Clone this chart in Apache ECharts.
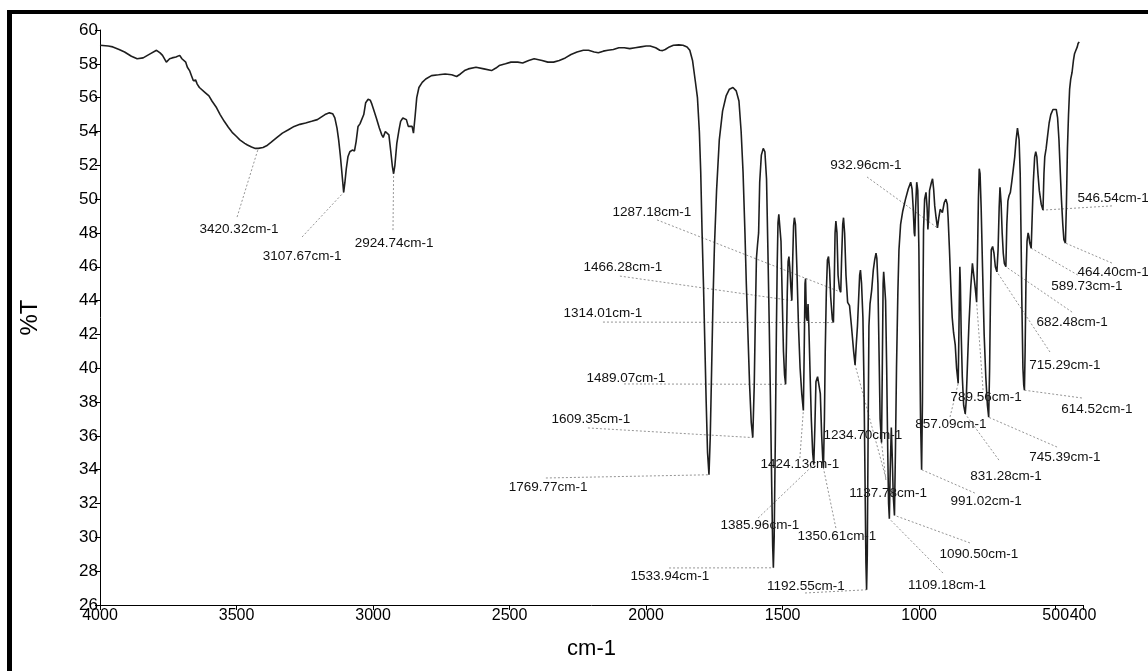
<!DOCTYPE html>
<html>
<head>
<meta charset="utf-8">
<title>IR spectrum</title>
<script src="https://cdn.jsdelivr.net/npm/echarts@6/dist/echarts.min.js"></script>
<style>
  html, body { margin: 0; padding: 0; background: #fff; }
  #chart { width: 1148px; height: 671px; }
</style>
</head>
<body>
<div id="chart"></div>
<script>
// FT-IR transmittance spectrum: [wavenumber (cm-1), %T]
const spectrum = [
  [4000, 59.1], [3970, 59.05], [3953, 59.0], [3930, 58.85], [3910, 58.7], [3885, 58.45],
  [3864, 58.3], [3842, 58.35], [3815, 58.6], [3793, 58.8], [3780, 58.65], [3771, 58.5],
  [3757, 58.1], [3745, 58.3], [3736, 58.35], [3722, 58.4], [3708, 58.5], [3700, 58.3],
  [3686, 58.1], [3680, 57.8], [3672, 57.6], [3665, 57.3], [3658, 57.0], [3650, 57.05],
  [3644, 56.8], [3636, 56.6], [3630, 56.5], [3615, 56.3], [3601, 56.1], [3590, 55.8],
  [3573, 55.4], [3560, 55.0], [3545, 54.6], [3530, 54.25], [3516, 53.95], [3500, 53.7],
  [3488, 53.5], [3470, 53.3], [3460, 53.2], [3445, 53.08], [3431, 53.0], [3420.32, 53.0],
  [3403, 53.05], [3390, 53.15], [3374, 53.35], [3355, 53.6], [3332, 53.9], [3310, 54.1],
  [3289, 54.3], [3268, 54.42], [3247, 54.5], [3225, 54.6], [3204, 54.7], [3190, 54.85],
  [3176, 55.0], [3160, 55.1], [3148, 55.05], [3140, 54.8], [3132, 54.2], [3126, 53.5],
  [3120, 52.6], [3116, 51.9], [3111, 51.0], [3107.67, 50.4], [3103, 51.0], [3098, 51.8],
  [3092, 52.5], [3085, 52.8], [3076, 52.9], [3068, 52.85], [3062, 53.4], [3055, 54.3],
  [3048, 54.45], [3041, 54.35], [3034, 55.0], [3027, 55.7], [3018, 55.9], [3010, 55.85],
  [3004, 55.6], [2998, 55.3], [2988, 54.8], [2977, 54.2], [2968, 53.8], [2963, 53.65],
  [2955, 54.0], [2949, 54.1], [2942, 53.8], [2935, 52.8], [2929, 51.9], [2924.74, 51.5],
  [2920, 52.0], [2913, 53.3], [2905, 54.1], [2899, 54.6], [2891, 54.8], [2885, 54.9],
  [2878, 54.7], [2871, 54.3], [2864, 54.2], [2857, 54.3], [2852, 53.9], [2846, 54.9],
  [2840, 56.0], [2832, 56.6], [2820, 56.9], [2807, 57.1], [2786, 57.3], [2760, 57.35],
  [2736, 57.4], [2712, 57.35], [2694, 57.25], [2680, 57.4], [2665, 57.6], [2651, 57.7],
  [2623, 57.8], [2594, 57.7], [2566, 57.6], [2550, 57.75], [2538, 57.9], [2515, 58.0],
  [2495, 58.1], [2470, 58.1], [2452, 58.05], [2430, 58.2], [2410, 58.3], [2381, 58.2],
  [2360, 58.1], [2339, 58.1], [2318, 58.2], [2296, 58.35], [2275, 58.55], [2253, 58.7],
  [2230, 58.8], [2211, 58.8], [2190, 58.7], [2175, 58.65], [2157, 58.75], [2140, 58.8],
  [2120, 58.85], [2100, 58.95], [2080, 58.95], [2060, 58.9], [2040, 58.95], [2020, 59.0],
  [2000, 59.05], [1985, 59.05], [1965, 58.95], [1950, 58.8], [1940, 58.78], [1930, 58.85],
  [1915, 59.0], [1900, 59.1], [1880, 59.12], [1865, 59.1], [1850, 59.0], [1840, 58.8],
  [1830, 58.2], [1820, 57.0], [1812, 56.0], [1805, 54.0], [1800, 51.6], [1795, 48.0],
  [1790, 45.0], [1785, 41.5], [1780, 38.0], [1775, 35.0], [1769.77, 33.7], [1765, 36.0],
  [1760, 40.0], [1755, 44.0], [1750, 47.1], [1742, 50.5], [1732, 53.5], [1720, 55.2],
  [1707, 56.1], [1695, 56.5], [1682, 56.6], [1670, 56.4], [1660, 55.8], [1652, 54.0],
  [1645, 51.6], [1638, 48.0], [1633, 45.0], [1627, 42.0], [1621, 39.0], [1615, 36.8],
  [1609.35, 35.9], [1604, 39.0], [1600, 43.0], [1596, 46.5], [1592, 47.3], [1588, 48.0],
  [1584, 51.0], [1578, 52.6], [1571, 53.0], [1565, 52.8], [1559, 51.2], [1554, 47.0],
  [1549, 42.5], [1544, 37.5], [1540, 33.0], [1536.5, 29.5], [1533.94, 28.2], [1531, 30.0],
  [1527, 35.5], [1523, 42.0], [1520, 46.0], [1517, 48.6], [1514, 49.1], [1510, 49.0],
  [1506, 47.5], [1502, 44.5], [1497, 41.0], [1493, 39.6], [1489.07, 39.05], [1486, 41.5],
  [1483, 44.5], [1480, 46.3], [1477, 46.6], [1474, 46.0], [1470, 44.8], [1466.28, 44.0],
  [1463, 46.5], [1460, 48.4], [1457, 48.9], [1453, 48.5], [1448, 46.0], [1442, 42.5],
  [1436, 40.0], [1430, 38.5], [1424.13, 37.5], [1421, 41.0], [1418, 45.0], [1416, 45.3],
  [1413, 43.0], [1410, 42.8], [1407, 43.8], [1404, 42.5], [1400, 40.0], [1395, 37.0],
  [1390, 35.0], [1385.96, 34.3], [1382, 36.5], [1378, 39.2], [1372, 39.5], [1366, 39.6],
  [1362, 38.5], [1357, 36.0], [1353, 34.6], [1350.61, 34.1], [1347, 37.0], [1344, 41.0],
  [1340, 44.5], [1336, 46.4], [1332, 46.6], [1328, 45.8], [1324, 44.2], [1318, 42.9],
  [1314.01, 42.7], [1311, 45.0], [1308, 48.0], [1305, 48.7], [1301, 48.0], [1297, 45.5],
  [1292, 44.7], [1287.18, 44.5], [1284, 46.5], [1280, 48.5], [1277, 48.9], [1273, 48.0],
  [1268, 45.5], [1262, 43.9], [1255, 43.7], [1248, 42.5], [1240, 41.0], [1234.70, 40.2],
  [1230, 41.5], [1226, 42.5], [1222, 44.0], [1218, 45.5], [1215, 45.8], [1211, 45.0],
  [1206, 43.0], [1202, 39.0], [1198, 33.0], [1195, 28.5], [1192.55, 26.9], [1190, 29.0],
  [1187, 36.0], [1184, 42.5], [1180, 43.8], [1174, 44.6], [1168, 45.8], [1163, 46.4],
  [1158, 46.8], [1155, 46.5], [1151, 45.0], [1147, 41.0], [1143, 37.0], [1137.78, 35.6],
  [1135, 40.0], [1132, 45.0], [1130, 45.7], [1127, 45.0], [1123, 44.0], [1119, 40.0],
  [1115, 35.0], [1112, 32.0], [1109.18, 31.1], [1106, 34.0], [1102, 36.5], [1099, 35.0],
  [1095, 32.5], [1090.50, 31.3], [1087, 35.0], [1083, 40.0], [1078, 44.5], [1074, 47.0],
  [1068, 48.5], [1060, 49.3], [1050, 50.0], [1040, 50.6], [1031, 51.0], [1026, 50.6],
  [1022, 49.5], [1018, 48.0], [1016, 47.8], [1013, 49.5], [1009, 51.0], [1005, 50.5],
  [1001, 47.0], [998, 42.0], [995, 37.0], [991.02, 34.0], [988, 38.0], [986, 44.0],
  [984, 48.2], [980, 50.0], [975, 50.4], [971, 49.5], [968, 48.2], [965, 49.0],
  [962, 50.5], [958, 50.6], [955, 51.0], [951, 51.2], [947, 50.6], [943, 49.6],
  [938, 48.9], [932.96, 48.3], [928, 48.9], [923, 49.4], [915, 49.2], [908, 49.8],
  [902, 50.0], [897, 49.7], [894, 48.9], [889, 47.0], [884, 44.8], [879, 43.0],
  [874, 42.1], [868, 41.4], [863, 40.0], [857.09, 39.1], [855, 41.5], [853, 44.0],
  [851, 46.0], [849, 45.0], [846, 42.0], [842, 39.5], [837, 37.8], [831.28, 37.3],
  [828, 38.0], [823, 40.3], [818, 42.5], [811, 44.8], [805, 46.2], [800, 45.5],
  [795, 44.8], [789.56, 43.9], [786, 47.0], [783, 50.0], [780, 51.8], [777, 51.5],
  [773, 49.5], [768, 46.0], [762, 42.0], [756, 39.5], [750, 37.8], [745.39, 37.1],
  [742, 40.0], [739, 44.0], [736, 47.0], [731, 47.2], [726, 46.8], [721, 46.0],
  [715.29, 45.7], [711, 47.0], [707, 49.5], [704, 50.7], [700, 49.8], [696, 48.0],
  [692, 46.8], [688, 46.2], [682.48, 46.0], [679, 48.5], [675, 49.9], [671, 50.2],
  [666, 50.4], [661, 51.0], [655, 51.8], [650, 52.5], [645, 53.5], [640, 54.2],
  [637, 54.3], [634, 53.5], [630, 51.5], [627, 48.0], [624, 44.0], [620, 40.0],
  [617, 39.0], [614.52, 38.7], [612, 41.0], [609, 45.0], [605, 47.5], [601, 48.0],
  [598, 47.8], [595, 47.4], [589.73, 47.1], [586, 49.0], [582, 51.0], [577, 52.5],
  [573, 52.8], [569, 52.5], [565, 51.5], [560, 50.5], [553, 49.7], [546.54, 49.35],
  [543, 51.5], [540, 52.5], [535, 53.0], [530, 53.7], [524, 54.5], [518, 55.0],
  [510, 55.3], [503, 55.4], [498, 55.3], [493, 54.8], [488, 53.5], [483, 51.5],
  [479, 50.0], [474, 48.5], [470, 47.6], [464.40, 47.4], [461, 49.5], [457, 53.0],
  [453, 55.0], [449, 56.5], [445, 57.1], [440, 57.5], [435, 58.2], [431, 58.6],
  [426, 58.8], [421, 59.0], [418, 59.2], [414, 59.3], [411, 59.2]
];

// Labelled band positions (cm-1) and their %T minima
const peakWn = [3420.32, 3107.67, 2924.74, 1769.77, 1609.35, 1533.94, 1489.07, 1466.28,
  1424.13, 1385.96, 1350.61, 1314.01, 1287.18, 1234.70, 1192.55, 1137.78, 1109.18,
  1090.50, 991.02, 932.96, 857.09, 831.28, 789.56, 745.39, 715.29, 682.48, 614.52,
  589.73, 546.54, 464.40];
const peakT = [53.0, 50.4, 51.5, 33.7, 35.9, 28.2, 39.05, 44.0, 37.5, 34.3, 34.1, 42.7,
  44.5, 40.2, 26.9, 35.6, 31.1, 31.3, 34.0, 48.3, 39.1, 37.3, 43.9, 37.1, 45.7, 46.0,
  38.7, 47.1, 49.35, 47.4];

// Where each band label sits, in axis units [cm-1, %T]
const labelTextAt = [[3491, 48.23], [3260, 46.64], [2923, 47.41], [2359, 32.98],
  [2202, 37.0], [1913, 27.71], [2074, 39.42], [2085, 45.99], [1437, 34.34],
  [1583, 30.73], [1301, 30.08], [2158, 43.27], [1979, 49.24], [1206, 36.05],
  [1415, 27.12], [1114, 32.62], [898, 27.18], [781, 29.02], [755, 32.15],
  [1195, 52.02], [884, 36.70], [682, 33.63], [755, 38.30], [466, 34.75],
  [466, 40.19], [440, 42.73], [349, 37.59], [386, 44.86], [290, 50.07], [290, 45.69]];
// Where each leader line leaves the label, in axis units [cm-1, %T]
const leaderFrom = [[3498, 48.94], [3260, 47.76], [2927, 48.17], [2367, 33.51],
  [2213, 36.47], [1916, 28.19], [2081, 39.07], [2096, 45.45], [1437, 34.69],
  [1590, 31.14], [1305, 30.55], [2158, 42.73], [1960, 48.77], [1122, 33.51],
  [1418, 26.71], [1122, 33.39], [913, 27.89], [814, 29.67], [796, 32.62],
  [1191, 51.31], [887, 37.12], [708, 34.57], [766, 38.71], [495, 35.34],
  [521, 40.96], [440, 43.32], [404, 38.24], [419, 45.51], [294, 49.6], [294, 46.22]];

const xTickValues = [4000, 3500, 3000, 2500, 2000, 1500, 1000, 500, 400];
const yMin = 26, yMax = 60, yStep = 2;

const FONT = '"Liberation Sans", Arial, sans-serif';

const annotationData = peakWn.map((wn, i) => [
  wn, peakT[i], labelTextAt[i][0], labelTextAt[i][1], leaderFrom[i][0], leaderFrom[i][1]
]);

const chart = echarts.init(document.getElementById('chart'), null, { renderer: 'canvas' });

chart.setOption({
  animation: false,
  backgroundColor: '#ffffff',
  grid: { left: 100, right: 65, top: 30, bottom: 66, containLabel: false },
  xAxis: {
    type: 'value',
    min: 400,
    max: 4000,
    inverse: true,
    name: 'cm-1',
    nameLocation: 'middle',
    nameGap: 33,
    nameTextStyle: { fontSize: 22, color: '#000', fontFamily: FONT },
    axisLine: { show: true, onZero: false, lineStyle: { color: '#000', width: 1 } },
    axisTick: { show: true, customValues: xTickValues, length: 5, lineStyle: { color: '#000' } },
    axisLabel: {
      customValues: xTickValues,
      formatter: function (v) { return String(v); },
      hideOverlap: false,
      fontSize: 16,
      color: '#000',
      margin: 3,
      fontFamily: FONT
    },
    splitLine: { show: false }
  },
  yAxis: {
    type: 'value',
    min: yMin,
    max: yMax,
    interval: yStep,
    name: '%T',
    nameLocation: 'middle',
    nameGap: 58,
    nameRotate: 90,
    nameTextStyle: { fontSize: 24, color: '#000', fontFamily: FONT },
    axisLine: { show: true, onZero: false, lineStyle: { color: '#000', width: 1 } },
    axisTick: { show: true, length: 5, lineStyle: { color: '#000' } },
    axisLabel: { fontSize: 17, color: '#000', margin: 2, fontFamily: FONT },
    splitLine: { show: false }
  },
  graphic: [
    // heavy page frame along the top and left edges
    { type: 'rect', left: 7, top: 10, shape: { width: 1141, height: 4 }, style: { fill: '#000' }, silent: true },
    { type: 'rect', left: 7, top: 10, shape: { width: 5, height: 661 }, style: { fill: '#000' }, silent: true }
  ],
  series: [
    {
      type: 'custom',
      name: 'band labels',
      coordinateSystem: 'cartesian2d',
      data: annotationData,
      encode: { x: 0, y: 1 },
      clip: false,
      z: 2,
      renderItem: function (params, api) {
        const peak = api.coord([api.value(0), api.value(1)]);
        const txt = api.coord([api.value(2), api.value(3)]);
        const from = api.coord([api.value(4), api.value(5)]);
        return {
          type: 'group',
          children: [
            {
              type: 'line',
              shape: { x1: from[0], y1: from[1], x2: peak[0], y2: peak[1] },
              style: { stroke: '#7a7a7a', lineWidth: 0.8, lineDash: [2, 2] }
            },
            {
              type: 'text',
              x: txt[0],
              y: txt[1],
              style: {
                text: api.value(0).toFixed(2) + 'cm-1',
                align: 'center',
                verticalAlign: 'middle',
                fontSize: 13.5,
                fontFamily: FONT,
                fill: '#111'
              }
            }
          ]
        };
      }
    },
    {
      type: 'line',
      name: '%T',
      data: spectrum,
      showSymbol: false,
      smooth: false,
      z: 3,
      lineStyle: { color: '#1e1e1e', width: 1.6 }
    }
  ]
});
</script>
</body>
</html>
